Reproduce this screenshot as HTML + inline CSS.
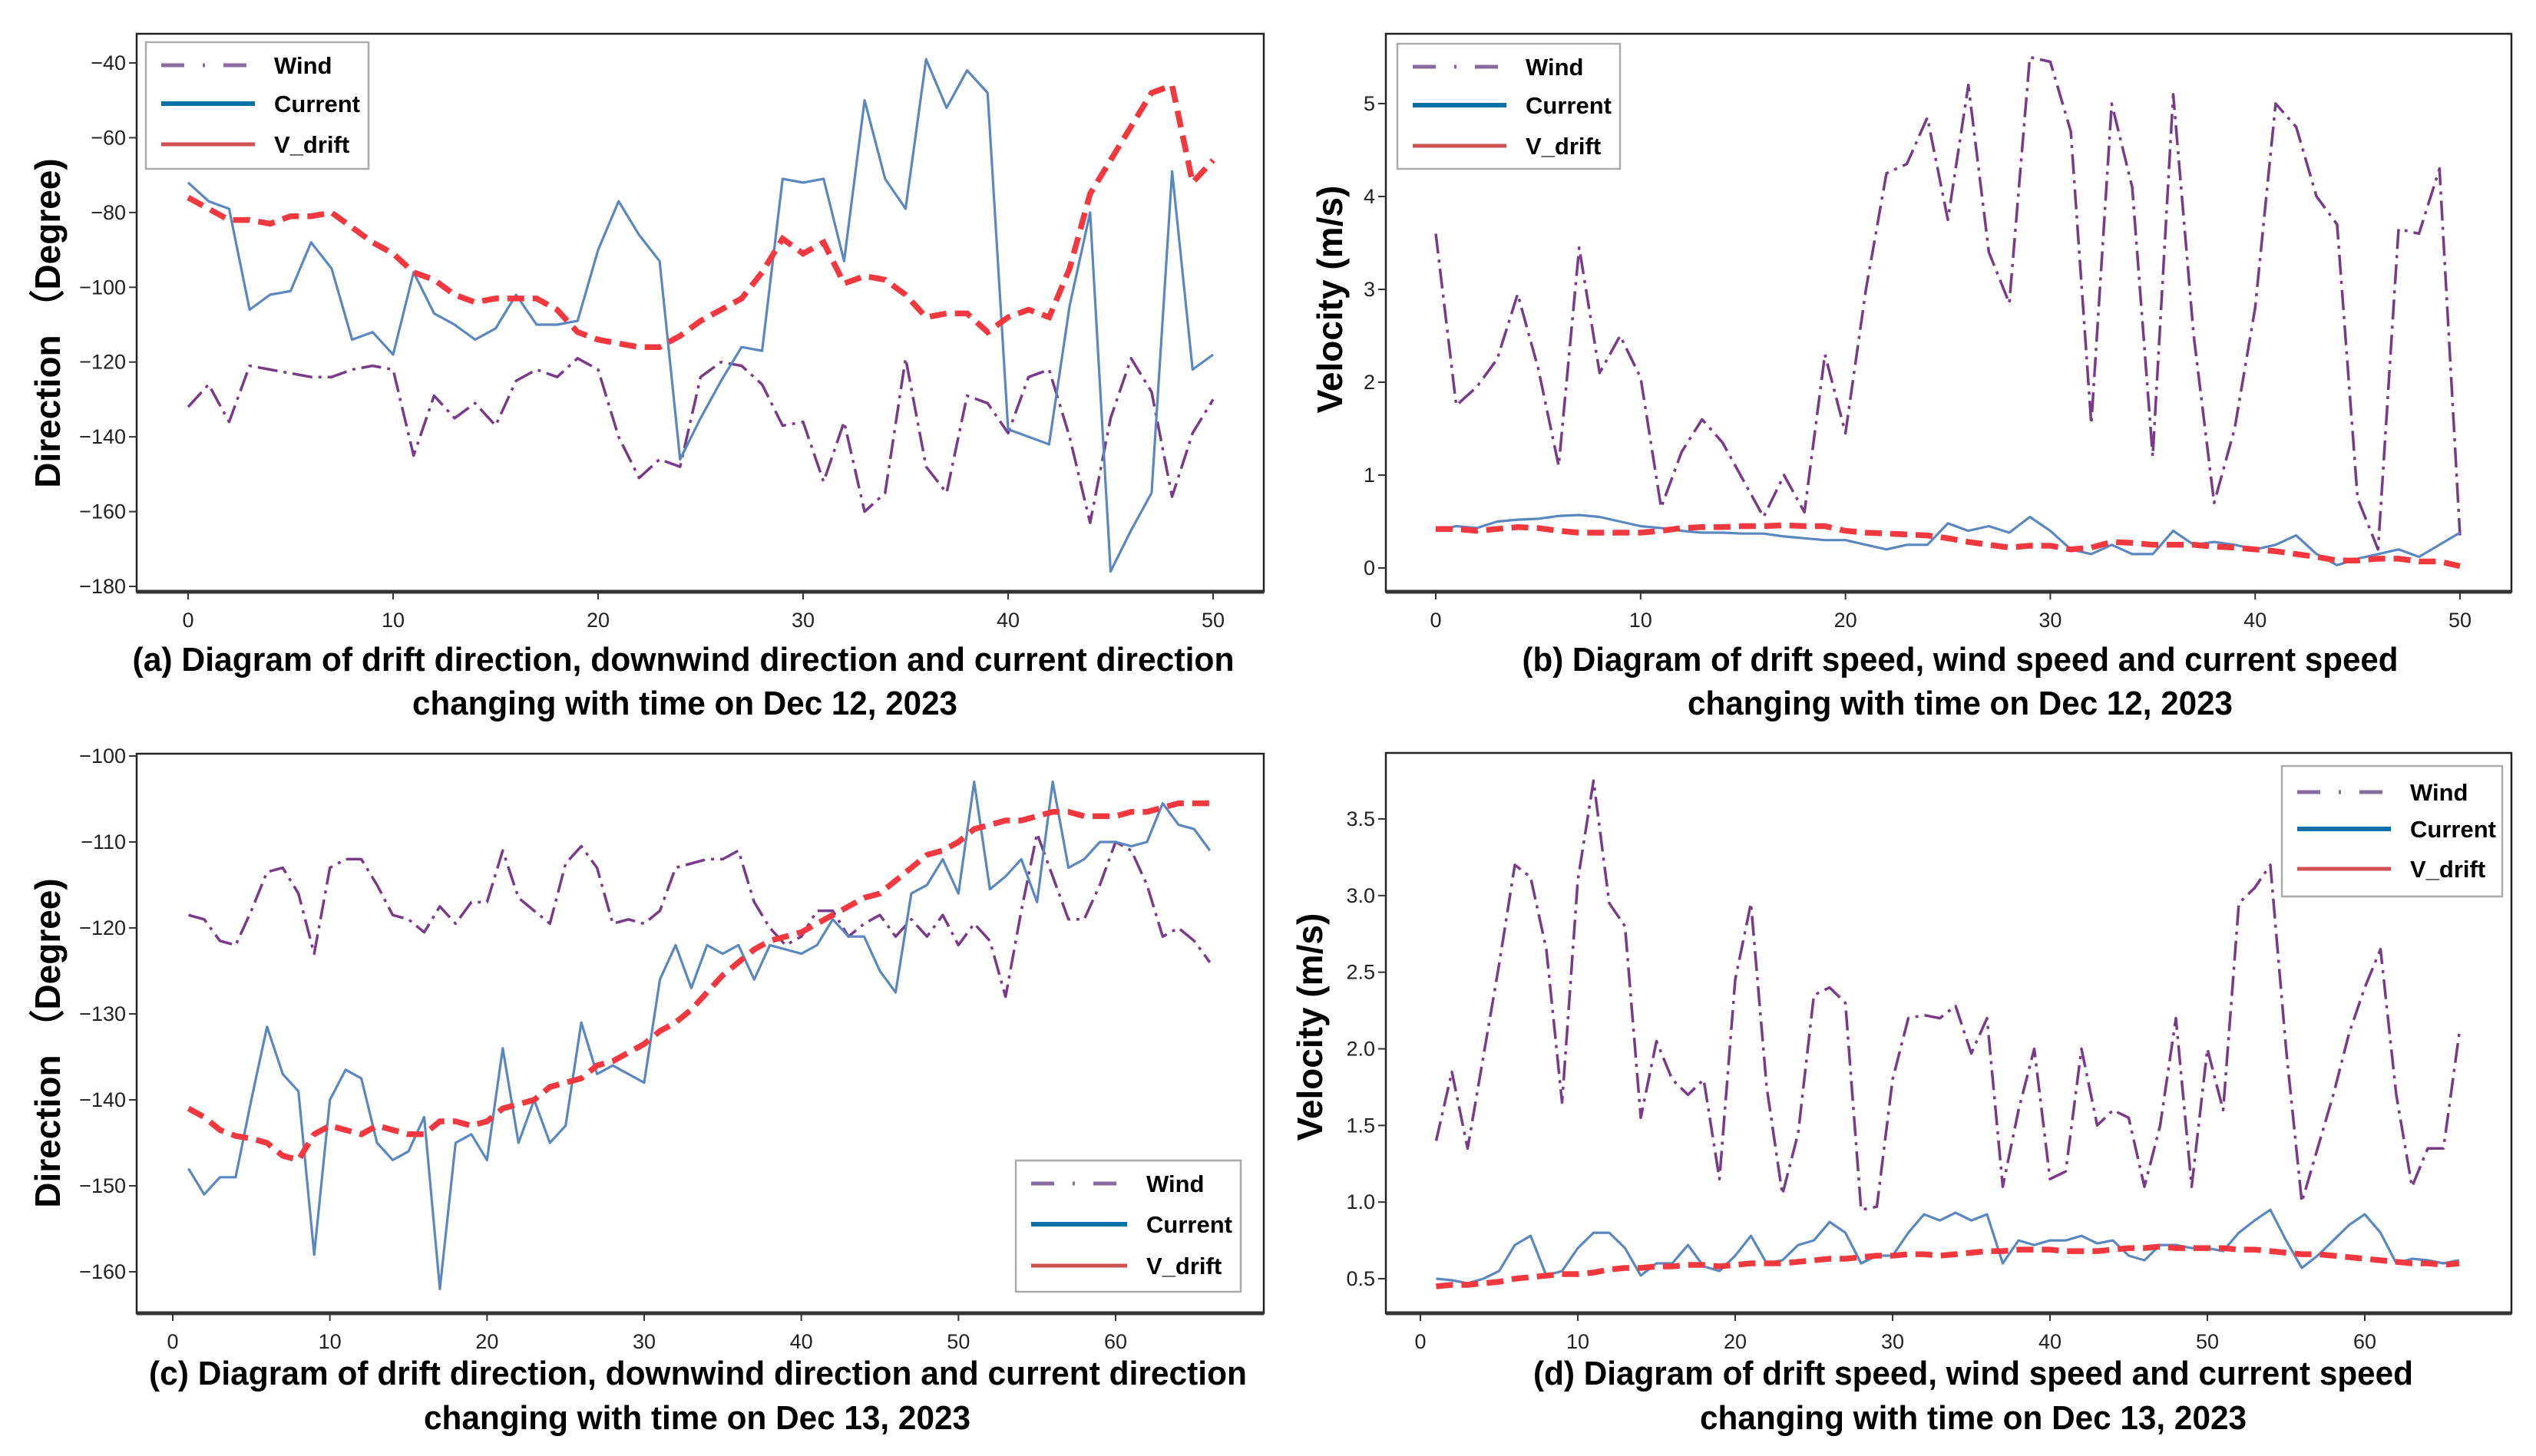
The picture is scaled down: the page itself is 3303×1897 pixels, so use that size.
<!DOCTYPE html>
<html><head><meta charset="utf-8"><style>
html,body{margin:0;padding:0;background:#fff}
svg{display:block}
text{font-family:"Liberation Sans",sans-serif}
.tick{font-size:27px;fill:#222}
.cap{font-size:44px;font-weight:bold;fill:#000}
.yt{font-size:46px;font-weight:bold;fill:#000}
.leg{font-size:31px;font-weight:bold;fill:#000}
</style></head><body>
<svg id="fig" width="3303" height="1897" viewBox="0 0 3303 1897" xmlns="http://www.w3.org/2000/svg">
<text class="cap" x="890" y="874" text-anchor="middle" textLength="1435" lengthAdjust="spacingAndGlyphs">(a) Diagram of drift direction, downwind direction and current direction</text>
<text class="cap" x="892" y="931" text-anchor="middle" textLength="710" lengthAdjust="spacingAndGlyphs">changing with time on Dec 12, 2023</text>
<text class="cap" x="2553" y="874" text-anchor="middle" textLength="1141" lengthAdjust="spacingAndGlyphs">(b) Diagram of drift speed, wind speed and current speed</text>
<text class="cap" x="2553" y="931" text-anchor="middle" textLength="710" lengthAdjust="spacingAndGlyphs">changing with time on Dec 12, 2023</text>
<text class="cap" x="909" y="1804" text-anchor="middle" textLength="1430" lengthAdjust="spacingAndGlyphs">(c) Diagram of drift direction, downwind direction and current direction</text>
<text class="cap" x="908" y="1862" text-anchor="middle" textLength="712" lengthAdjust="spacingAndGlyphs">changing with time on Dec 13, 2023</text>
<text class="cap" x="2570" y="1804" text-anchor="middle" textLength="1146" lengthAdjust="spacingAndGlyphs">(d) Diagram of drift speed, wind speed and current speed</text>
<text class="cap" x="2570" y="1862" text-anchor="middle" textLength="712" lengthAdjust="spacingAndGlyphs">changing with time on Dec 13, 2023</text>
<text class="yt" transform="translate(78,421) rotate(-90)" text-anchor="middle">Direction （Degree)</text>
<text class="yt" transform="translate(1748,390) rotate(-90)" text-anchor="middle">Velocity (m/s)</text>
<text class="yt" transform="translate(78,1359) rotate(-90)" text-anchor="middle">Direction （Degree)</text>
<text class="yt" transform="translate(1722,1338) rotate(-90)" text-anchor="middle">Velocity (m/s)</text>
</svg>
<script>
// Panel (a) data: x = 0..50
const aWind=[-132,-126,-136,-121,-122,-123,-124,-124,-122,-121,-122,-145,-129,-135,-131,-137,-125,-122,-124,-119,-122,-140,-151,-146,-148,-124,-120,-121,-126,-137,-136,-152,-136,-160,-155,-119,-148,-155,-129,-131,-139,-124,-122,-140,-163,-135,-119,-128,-156,-139,-130];
const aCurrent=[-72,-77,-79,-106,-102,-101,-88,-95,-114,-112,-118,-96,-107,-110,-114,-111,-102,-110,-110,-109,-90,-77,-86,-93,-146,-135,-125,-116,-117,-71,-72,-71,-93,-50,-71,-79,-39,-52,-42,-48,-138,-140,-142,-105,-80,-176,-165,-155,-69,-122,-118];
const aDrift=[-76,-79,-82,-82,-83,-81,-81,-80,-84,-88,-91,-96,-98,-102,-104,-103,-103,-103,-106,-112,-114,-115,-116,-116,-113,-109,-106,-103,-96,-87,-91,-88,-99,-97,-98,-102,-108,-107,-107,-112,-108,-106,-108,-95,-75,-66,-57,-48,-46,-72,-66];
const aXTicks=[0,10,20,30,40,50];
const aYTicks=[-40,-60,-80,-100,-120,-140,-160,-180];
// Panel (b) data: x = 0..50
const bWind=[3.6,1.75,1.95,2.25,2.95,2.15,1.1,3.45,2.1,2.5,2.05,0.65,1.25,1.6,1.35,0.95,0.55,1.0,0.6,2.3,1.45,3.0,4.25,4.35,4.85,3.75,5.2,3.4,2.85,5.5,5.45,4.7,1.55,5.0,4.1,1.2,5.1,2.5,0.7,1.5,2.8,5.0,4.75,4.0,3.7,0.75,0.2,3.65,3.6,4.3,0.35];
const bCurrent=[0.4,0.45,0.43,0.5,0.52,0.53,0.56,0.57,0.55,0.5,0.45,0.43,0.4,0.38,0.38,0.37,0.37,0.34,0.32,0.3,0.3,0.25,0.2,0.25,0.25,0.48,0.4,0.45,0.38,0.55,0.4,0.2,0.15,0.25,0.15,0.15,0.4,0.25,0.28,0.25,0.2,0.25,0.35,0.15,0.03,0.1,0.15,0.2,0.12,0.25,0.38];
const bDrift=[0.42,0.42,0.4,0.42,0.44,0.43,0.4,0.38,0.38,0.38,0.38,0.4,0.43,0.44,0.44,0.45,0.45,0.46,0.45,0.45,0.4,0.38,0.37,0.36,0.35,0.32,0.28,0.25,0.22,0.24,0.24,0.2,0.22,0.28,0.27,0.25,0.25,0.25,0.23,0.22,0.2,0.18,0.15,0.12,0.08,0.08,0.1,0.1,0.07,0.07,0.02];
const bXTicks=[0,10,20,30,40,50];
const bYTicks=[0,1,2,3,4,5];
// Panel (c) data: x = 1..66
const cWind=[-118.5,-119,-121.5,-122,-118,-113.5,-113,-116,-123,-113,-112,-112,-115,-118.5,-119,-120.5,-117.5,-119.5,-117,-117,-111,-116.5,-118,-119.5,-112.5,-110.5,-113,-119.5,-119,-119.5,-118,-113,-112.5,-112,-112,-111,-117,-120,-122,-121,-118,-118,-121,-119.5,-118.5,-121,-119,-121,-118.5,-122,-119.5,-121.5,-128,-118,-109,-114,-119,-119,-115,-110,-111,-115,-121,-120,-121.5,-124];
const cCurrent=[-148,-151,-149,-149,-140,-131.5,-137,-139,-158,-140,-136.5,-137.5,-145,-147,-146,-142,-162,-145,-144,-147,-134,-145,-140,-145,-143,-131,-137,-136,-137,-138,-126,-122,-127,-122,-123,-122,-126,-122,-122.5,-123,-122,-119,-121,-121,-125,-127.5,-116,-115,-112,-116,-103,-115.5,-114,-112,-117,-103,-113,-112,-110,-110,-110.5,-110,-105.5,-108,-108.5,-111];
const cDrift=[-141,-142,-143.5,-144.2,-144.5,-145,-146.5,-147,-144,-143,-143.5,-144,-143,-143.5,-144,-144,-142.5,-142.5,-143,-142.5,-141,-140.5,-140,-138.5,-138,-137.5,-136,-135.5,-134.5,-133.5,-132,-131,-129.5,-127.5,-125.5,-124,-122.5,-121.5,-121,-120.5,-119.5,-118.5,-117.5,-116.5,-116,-114.5,-113,-111.5,-111,-110,-108.5,-108,-107.5,-107.5,-107,-106.5,-106.5,-107,-107,-107,-106.5,-106.5,-106,-105.5,-105.5,-105.5];
const cXTicks=[0,10,20,30,40,50,60];
const cYTicks=[-100,-110,-120,-130,-140,-150,-160];
// Panel (d) data: x = 1..66
const dWind=[1.4,1.85,1.35,1.95,2.55,3.2,3.12,2.65,1.65,3.1,3.75,2.95,2.8,1.55,2.05,1.8,1.7,1.8,1.15,2.45,2.95,1.75,1.05,1.45,2.35,2.4,2.3,0.95,0.97,1.8,2.2,2.22,2.2,2.28,1.97,2.2,1.1,1.6,2.0,1.15,1.2,2.0,1.5,1.6,1.55,1.1,1.5,2.2,1.1,2.0,1.6,2.95,3.05,3.2,2.0,1.0,1.35,1.7,2.1,2.4,2.65,1.7,1.1,1.35,1.35,2.1];
const dCurrent=[0.5,0.49,0.47,0.5,0.55,0.72,0.78,0.52,0.55,0.7,0.8,0.8,0.7,0.52,0.6,0.6,0.72,0.58,0.55,0.65,0.78,0.6,0.62,0.72,0.75,0.87,0.8,0.6,0.65,0.65,0.8,0.92,0.88,0.93,0.88,0.92,0.6,0.75,0.72,0.75,0.75,0.78,0.73,0.75,0.65,0.62,0.72,0.72,0.7,0.7,0.68,0.8,0.88,0.95,0.75,0.57,0.65,0.75,0.85,0.92,0.8,0.6,0.63,0.62,0.6,0.62];
const dDrift=[0.45,0.46,0.46,0.47,0.48,0.5,0.51,0.52,0.53,0.53,0.54,0.56,0.57,0.57,0.58,0.58,0.59,0.59,0.58,0.59,0.6,0.6,0.6,0.61,0.62,0.63,0.63,0.64,0.65,0.65,0.66,0.66,0.65,0.66,0.67,0.68,0.68,0.69,0.69,0.69,0.68,0.68,0.68,0.69,0.7,0.7,0.71,0.7,0.7,0.7,0.7,0.69,0.69,0.68,0.67,0.66,0.66,0.65,0.64,0.63,0.62,0.61,0.6,0.6,0.59,0.6];
const dXTicks=[0,10,20,30,40,50,60];
const dYTicks=[0.5,1.0,1.5,2.0,2.5,3.0,3.5];

const NS='http://www.w3.org/2000/svg';
const svg=document.getElementById('fig');
function mk(tag,attrs,parent){const e=document.createElementNS(NS,tag);for(const k in attrs)e.setAttribute(k,attrs[k]);(parent||svg).appendChild(e);return e;}
function lin(d0,d1,r0,r1){return v=>r0+(v-d0)*(r1-r0)/(d1-d0);}

function panel(id,box,xs,ys,wind,cur,drift,x0,xT,yT,yFmt,leg){
  const g=mk('g',{});
  
  
  const fr=mk('rect',{x:box[0],y:box[1],width:box[2]-box[0],height:box[3]-box[1],fill:'none',stroke:'#222','stroke-width':2.5},g);
  
  
  const bl=mk('line',{x1:box[0],x2:box[2],y1:box[3],y2:box[3],stroke:'#333','stroke-width':5},g);
  
  
  xT.forEach(t=>{const x=xs(t);
    mk('line',{x1:x,x2:x,y1:box[3],y2:box[3]+10,stroke:'#333','stroke-width':2},g);
    const tx=mk('text',{x:x,y:box[3]+46,'text-anchor':'middle',class:'tick'},g);tx.textContent=t;
    
    });
  yT.forEach(t=>{const y=ys(t);
    mk('line',{x1:box[0]-10,x2:box[0],y1:y,y2:y,stroke:'#333','stroke-width':2},g);
    const tx=mk('text',{x:box[0]-14,y:y+9,'text-anchor':'end',class:'tick'},g);tx.textContent=yFmt(t);
    
    });
  function pts(arr){return arr.map((v,i)=>xs(i+x0).toFixed(1)+','+ys(v).toFixed(1)).join(' ');}
  const w=mk('polyline',{points:pts(wind),fill:'none',stroke:'#7a3a8a','stroke-width':3.5,'stroke-dasharray':'26,8,4,8','stroke-linejoin':'round'},g);
  
  
  const c=mk('polyline',{points:pts(cur),fill:'none',stroke:'#5a87c0','stroke-width':3.2,'stroke-linejoin':'round'},g);
  
  
  const d=mk('polyline',{points:pts(drift),fill:'none',stroke:'#f2383f','stroke-width':7.5,'stroke-dasharray':'22,11'},g);
  
  
  // legend
  const lg=mk('g',{},g);
  
  
  mk('rect',{x:leg[0],y:leg[1],width:leg[2],height:leg[3],fill:'#fff',stroke:'#aaa','stroke-width':2.5},lg);
  const items=[['Wind','#8a6aa0','30,24,3,24'],['Current','#0a72a8',''],['V_drift','#d05050','']];
  items.forEach((it,i)=>{const y=leg[1]+leg[5][i];
    const ln=mk('line',{x1:leg[0]+20,x2:leg[0]+20+leg[4],y1:y,y2:y,stroke:it[1],'stroke-width':i==1?6:5,'stroke-dasharray':it[2]},lg);
    
    
    const tx=mk('text',{x:leg[0]+leg[4]+45,y:y+11,class:'leg'},lg);tx.textContent=it[0];
    
    });
}
const f0=v=>String(v).replace('-','\u2212');
const f1=v=>v.toFixed(1);
panel('a',[178,44,1646,771],lin(0,50,245,1580),lin(-40,-180,82,764),aWind,aCurrent,aDrift,0,aXTicks,aYTicks,f0,[190,55,290,165,122,[30,80,133]]);
panel('b',[1805,44,3271,771],lin(0,50,1870,3204),lin(0,5,740,135),bWind,bCurrent,bDrift,0,bXTicks,bYTicks,f0,[1820,57,290,163,122,[30,80,133]]);
panel('c',[178,982,1646,1711],lin(0,60,225,1453),lin(-100,-160,985,1657),cWind,cCurrent,cDrift,1,cXTicks,cYTicks,f0,[1323,1512,293,171,125,[30,83,137]]);
panel('d',[1805,981,3271,1711],lin(0,60,1850,3080),lin(0.5,3.5,1666,1067),dWind,dCurrent,dDrift,1,dXTicks,dYTicks,f1,[2972,998,287,170,122,[34,82,134]]);
</script>
</body></html>
